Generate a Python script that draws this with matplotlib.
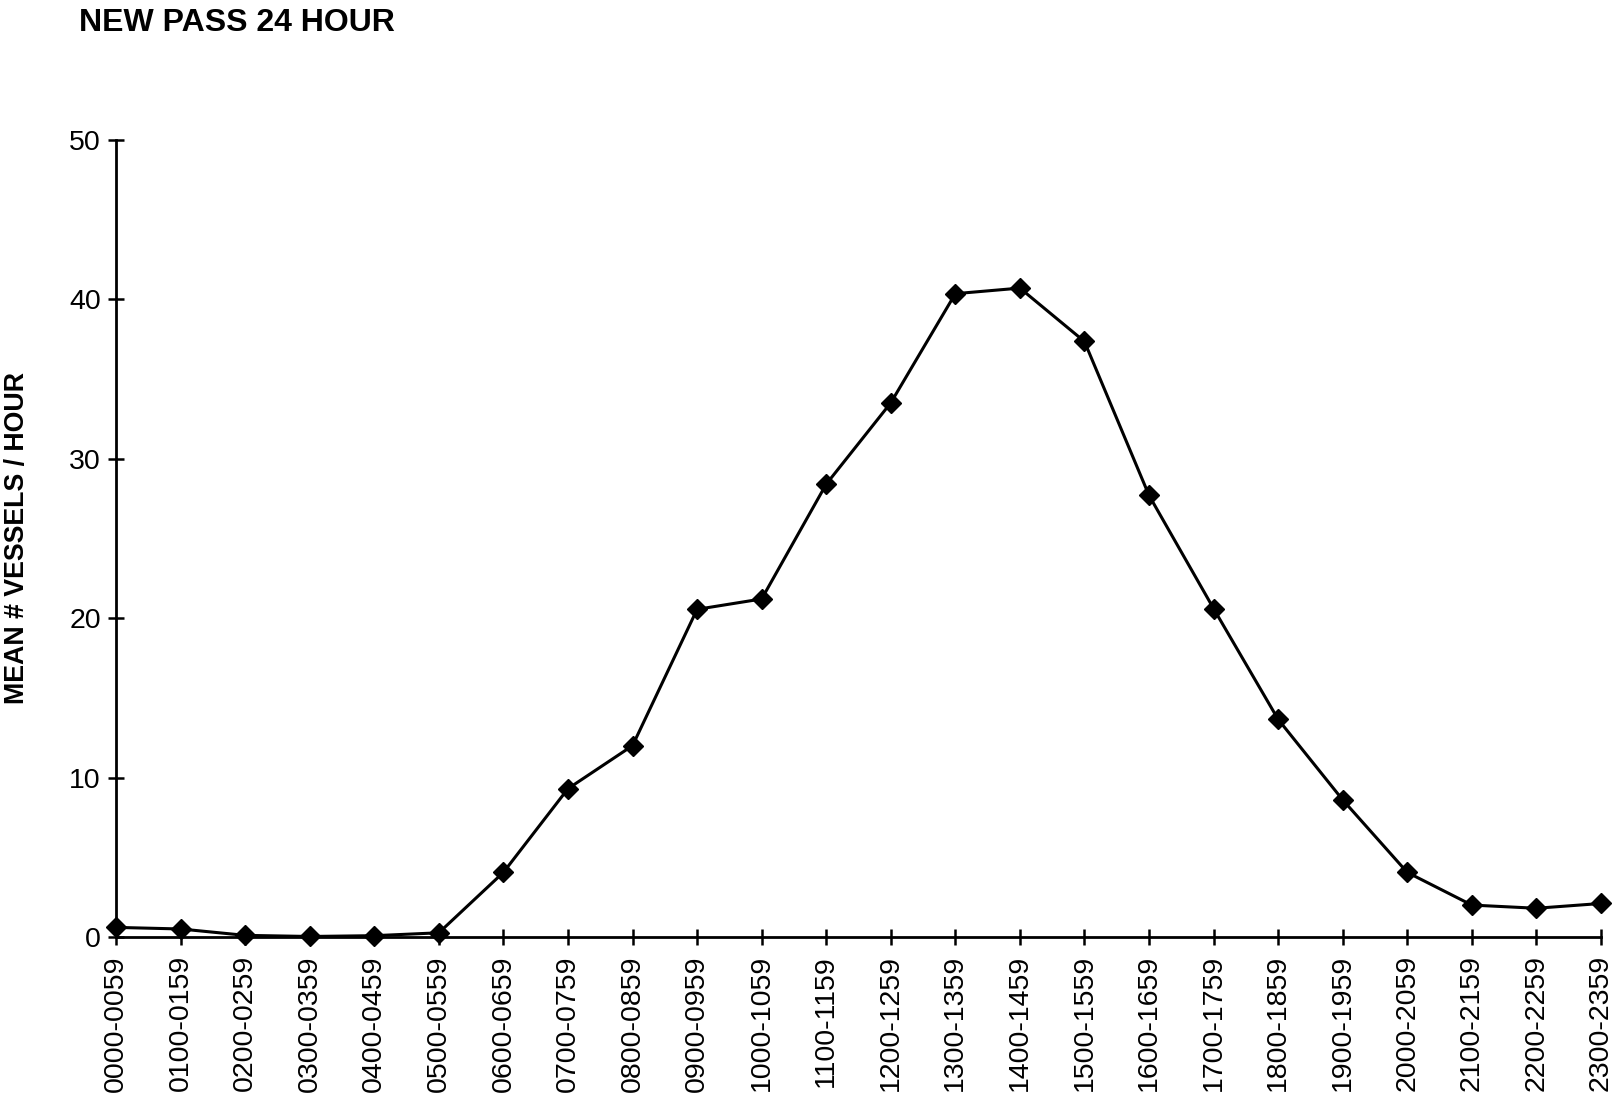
import matplotlib
matplotlib.use("Agg")
import matplotlib.pyplot as plt

hours = ["0000-0059", "0100-0159", "0200-0259", "0300-0359", "0400-0459", "0500-0559",
         "0600-0659", "0700-0759", "0800-0859", "0900-0959", "1000-1059", "1100-1159",
         "1200-1259", "1300-1359", "1400-1459", "1500-1559", "1600-1659", "1700-1759",
         "1800-1859", "1900-1959", "2000-2059", "2100-2159", "2200-2259", "2300-2359"]
vessels = [0.6, 0.5, 0.1, 0.03, 0.08, 0.26, 4.05, 9.3, 12.0, 20.55, 21.2, 28.4,
           33.5, 40.35, 40.7, 37.35, 27.7, 20.6, 13.65, 8.6, 4.05, 2.0, 1.8, 2.1]
yticks = [0, 10, 20, 30, 40, 50]

plt.rcParams['font.family'] = ['Liberation Sans', 'DejaVu Sans']

fig = plt.figure(figsize=(16.14, 11.01), dpi=100)
ax = fig.add_axes([0.0719, 0.149, 0.920, 0.724])

x = list(range(len(hours)))
ax.plot(x, vessels, color='black', lw=2.2, marker='D', markersize=10, clip_on=False, zorder=3)

ax.set_xlim(0, len(hours) - 1)
ax.set_ylim(0, 50)
ax.set_yticks(yticks)
ax.set_xticks(x)
ax.set_xticklabels(hours, rotation=90)

for s in ['top', 'right']:
    ax.spines[s].set_visible(False)
for s in ['left', 'bottom']:
    ax.spines[s].set_linewidth(2)
    ax.spines[s].set_color('black')

ax.tick_params(axis='both', direction='inout', length=12, width=1.8, colors='black', labelsize=20.5)
ax.tick_params(axis='x', pad=7)
ax.tick_params(axis='y', pad=5)

ax.set_ylabel("MEAN # VESSELS / HOUR", fontsize=19.3, fontweight='bold')
ax.yaxis.set_label_coords(-0.058, 0.5)

fig.text(0.049, 0.979, "NEW PASS 24 HOUR", fontsize=23, fontweight='bold', va='center', ha='left')

fig.savefig("out.png", dpi=100)
